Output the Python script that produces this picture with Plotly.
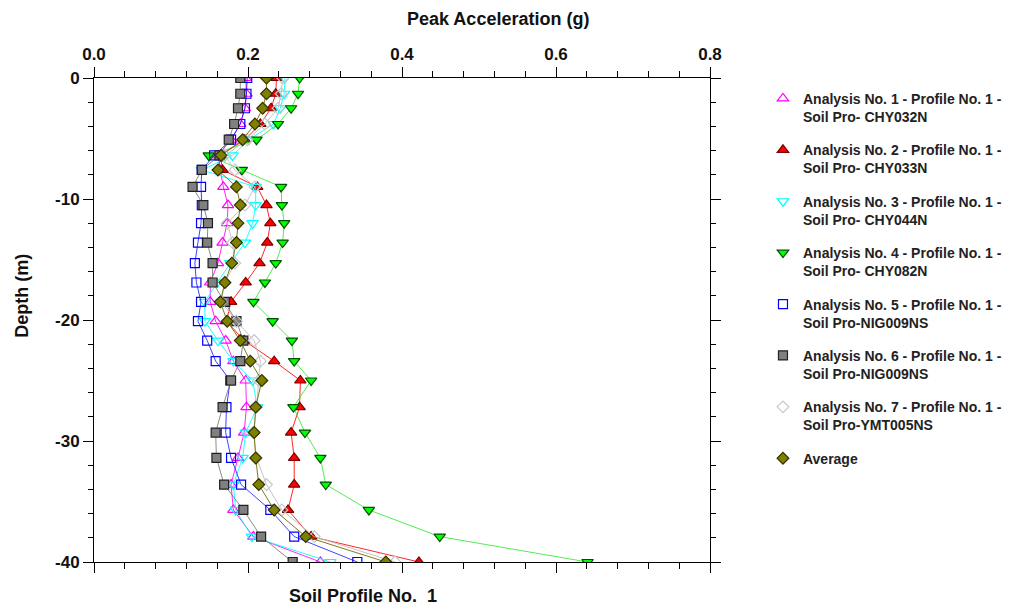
import plotly.graph_objects as go

# ---- data (depth in m, peak acceleration in g) ----
depth = [0, -1.3, -2.5, -3.8, -5.1, -6.4, -7.6, -9.0, -10.5, -12.0, -13.6, -15.3, -16.9,
         -18.5, -20.1, -21.7, -23.4, -25.0, -27.2, -29.3, -31.4, -33.6, -35.7, -37.9, -40.0]

an1_chy032n = [0.197, 0.198, 0.196, 0.190, 0.178, 0.161, 0.164, 0.168, 0.174, 0.173, 0.167, 0.161, 0.151,
               0.151, 0.158, 0.171, 0.181, 0.197, 0.198, 0.195, 0.187, 0.178, 0.181, 0.207, 0.294]
an2_chy033n = [0.237, 0.236, 0.230, 0.216, 0.196, 0.164, 0.167, 0.212, 0.224, 0.229, 0.225, 0.215, 0.197,
               0.178, 0.172, 0.195, 0.234, 0.268, 0.267, 0.256, 0.260, 0.260, 0.252, 0.282, 0.422]
an3_chy044n = [0.248, 0.247, 0.242, 0.233, 0.201, 0.180, 0.140, 0.210, 0.210, 0.206, 0.196, 0.177, 0.160,
               0.144, 0.144, 0.161, 0.181, 0.206, 0.212, 0.197, 0.193, 0.181, 0.184, 0.205, 0.307]
an4_chy082n = [0.267, 0.265, 0.256, 0.239, 0.211, 0.149, 0.192, 0.243, 0.244, 0.247, 0.245, 0.236, 0.222,
               0.207, 0.232, 0.257, 0.260, 0.282, 0.259, 0.274, 0.294, 0.301, 0.357, 0.449, 0.641]
an5_nig009ns = [0.199, 0.198, 0.196, 0.190, 0.178, 0.156, 0.140, 0.139, 0.140, 0.139, 0.135, 0.131, 0.133,
                0.139, 0.135, 0.147, 0.158, 0.177, 0.172, 0.171, 0.178, 0.191, 0.229, 0.260, 0.342]
an6_nig009ns = [0.190, 0.190, 0.187, 0.182, 0.175, 0.163, 0.140, 0.128, 0.142, 0.148, 0.147, 0.154, 0.154,
                0.170, 0.185, 0.194, 0.190, 0.178, 0.167, 0.158, 0.159, 0.169, 0.194, 0.217, 0.258]
an7_ymt005ns = [0.245, 0.243, 0.239, 0.222, 0.199, 0.170, 0.183, 0.209, 0.196, 0.173, 0.180, 0.183, 0.170,
                0.165, 0.185, 0.208, 0.216, 0.214, 0.211, 0.207, 0.211, 0.224, 0.244, 0.286, 0.391]
average = [0.224, 0.224, 0.219, 0.209, 0.193, 0.165, 0.161, 0.185, 0.190, 0.187, 0.185, 0.179, 0.170,
           0.164, 0.173, 0.190, 0.203, 0.218, 0.210, 0.208, 0.210, 0.214, 0.234, 0.275, 0.379]

names = [
    "Analysis No. 1 - Profile No. 1 -<br>Soil Pro- CHY032N",
    "Analysis No. 2 - Profile No. 1 -<br>Soil Pro- CHY033N",
    "Analysis No. 3 - Profile No. 1 -<br>Soil Pro- CHY044N",
    "Analysis No. 4 - Profile No. 1 -<br>Soil Pro- CHY082N",
    "Analysis No. 5 - Profile No. 1 -<br>Soil Pro-NIG009NS",
    "Analysis No. 6 - Profile No. 1 -<br>Soil Pro-NIG009NS",
    "Analysis No. 7 - Profile No. 1 -<br>Soil Pro-YMT005NS",
    "Average",
]
series = [an1_chy032n, an2_chy033n, an3_chy044n, an4_chy082n,
          an5_nig009ns, an6_nig009ns, an7_ymt005ns, average]

x_ticks = [0.0, 0.2, 0.4, 0.6, 0.8]
x_ticktext = ["0.0", "0.2", "0.4", "0.6", "0.8"]
y_ticks = [0, -10, -20, -30, -40]
y_ticktext = ["0", "-10", "-20", "-30", "-40"]

# ---- styles ----
styles = [
    dict(line="rgba(255,0,255,0.85)", symbol="triangle-up-open", fill="#FF00FF", edge="#FF00FF", size=10),
    dict(line="rgba(255,0,0,0.85)", symbol="triangle-up", fill="#FF0000", edge="#7a0000", size=10),
    dict(line="rgba(0,255,255,0.85)", symbol="triangle-down-open", fill="#00FFFF", edge="#00FFFF", size=10),
    dict(line="rgba(40,230,40,0.8)", symbol="triangle-down", fill="#00FF00", edge="#005000", size=10),
    dict(line="rgba(0,0,255,0.75)", symbol="square-open", fill="#0000FF", edge="#0000FF", size=9),
    dict(line="rgba(110,110,110,0.8)", symbol="square", fill="#808080", edge="#202020", size=9),
    dict(line="rgba(190,190,190,0.9)", symbol="diamond-open", fill="#C8C8C8", edge="#C8C8C8", size=9),
    dict(line="rgba(110,110,0,0.9)", symbol="diamond", fill="#808000", edge="#303000", size=9),
]

fig = go.Figure()
for vals, st in zip(series, styles):
    fig.add_trace(go.Scatter(
        x=vals, y=depth, mode="lines+markers", showlegend=False,
        line=dict(color=st["line"], width=1),
        marker=dict(symbol=st["symbol"], size=st["size"], color=st["fill"],
                    line=dict(color=st["edge"], width=1.2)),
    ))
# legend-only entries (marker glyph only, as in the reference)
for i, (name, st) in enumerate(zip(names, styles)):
    fig.add_trace(go.Scatter(
        x=[None], y=[None], mode="markers", name=name, legendgroup=f"g{i}",
        marker=dict(symbol=st["symbol"], size=st["size"], color=st["fill"],
                    line=dict(color=st["edge"], width=1.2)),
    ))

fam = "Liberation Sans, Arial, sans-serif"
tickf = dict(family=fam, size=17, color="#111111", weight="bold")
titlef = dict(family=fam, size=18, color="#111111", weight="bold")

fig.update_layout(
    width=1002, height=599,
    margin=dict(l=86, r=300, t=69.5, b=44.5, autoexpand=False),
    paper_bgcolor="white", plot_bgcolor="white",
    xaxis=dict(range=[0, 0.8], side="top", tickvals=x_ticks, ticktext=x_ticktext,
               ticks="outside", ticklen=10, tickwidth=1, tickcolor="black",
               showline=True, linecolor="black", linewidth=1, mirror="ticks",
               showgrid=False, zeroline=False, tickfont=tickf, automargin=False,
               minor=dict(dtick=0.04, ticks="outside", ticklen=6, tickcolor="black", showgrid=False)),
    yaxis=dict(range=[-40, 0], tickvals=y_ticks, ticktext=y_ticktext,
               ticks="outside", ticklen=10, tickwidth=1, tickcolor="black",
               showline=True, linecolor="black", linewidth=1, mirror="ticks",
               showgrid=False, zeroline=False, tickfont=tickf, automargin=False,
               minor=dict(dtick=2, ticks="outside", ticklen=5, tickcolor="black", showgrid=False)),
    legend=dict(x=1.086, y=0.990, xanchor="left", yanchor="top", valign="top",
                font=dict(family=fam, size=14, color="#222222", weight="bold"),
                tracegroupgap=12, bgcolor="rgba(0,0,0,0)"),
    annotations=[
        dict(text="Peak Acceleration (g)", xref="paper", yref="paper", x=0.656, y=1.1216,
             xanchor="center", yanchor="middle", showarrow=False, font=titlef),
        dict(text="Depth (m)", xref="paper", yref="paper", x=-0.117, y=0.55, textangle=-90,
             xanchor="center", yanchor="middle", showarrow=False, font=titlef),
        dict(text="Soil Profile No.  1", xref="paper", yref="paper", x=0.437, y=-0.071,
             xanchor="center", yanchor="middle", showarrow=False, font=titlef),
    ],
)

fig.write_html("out.html")
